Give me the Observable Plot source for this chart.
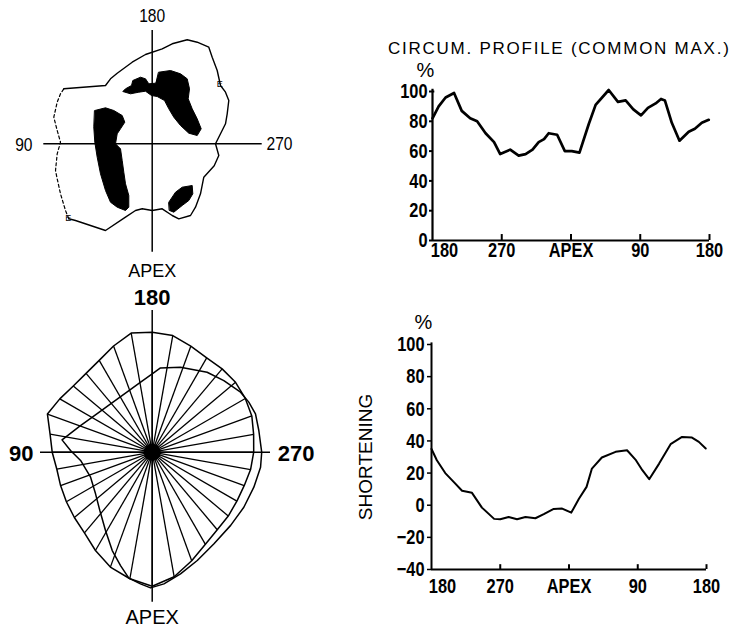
<!DOCTYPE html>
<html><head><meta charset="utf-8">
<script src="https://cdn.jsdelivr.net/npm/d3@7"></script>
<script src="https://cdn.jsdelivr.net/npm/@observablehq/plot@0.6"></script>
<style>
html,body{margin:0;padding:0;background:#fff;}
#fig{position:relative;width:732px;height:629px;overflow:hidden;background:#fff;}
.title{position:absolute;left:388px;top:39.5px;font-family:"Liberation Sans",Arial,Helvetica,sans-serif;font-size:17px;line-height:17px;letter-spacing:1.75px;white-space:nowrap;color:#000;}
</style></head><body><div id="fig"><div class="title">CIRCUM. PROFILE (COMMON MAX.)</div></div>
<script>
// ---------- data ----------
// position along the circumference: 0 = 180°, 90 = 270°, 180 = apex, 270 = 90°, 360 = 180°
const posTicks = [0, 90, 180, 270, 360];
const posLabels = ["180", "270", "APEX", "90", "180"];
const pctTicks = [0, 20, 40, 60, 80, 100];
const shortTicks = [-40, -20, 0, 20, 40, 60, 80, 100];

// circumferential profile (common max.), %
const profilePos = [0, 8, 17, 28, 38, 49, 58, 69, 80, 88, 101, 112, 121, 130, 138, 145, 151, 162, 172, 181, 191, 203, 212, 229, 241, 251, 261, 271, 280, 290, 297, 302, 311, 321, 333, 341, 350, 359];
const profileVal = [82, 90, 96, 99, 87, 82, 80, 72, 66, 58, 61, 57, 58, 61, 66, 68, 72, 71, 60, 60, 59, 78, 91, 101, 93, 94, 88, 84, 89, 92, 95, 94, 79, 67, 73, 75, 79, 81];

// regional shortening, %
const shortPos = [0, 7, 18, 29, 40, 53, 66, 82, 90, 101, 112, 123, 136, 147, 160, 171, 183, 193, 203, 210, 223, 241, 256, 267, 276, 285, 298, 313, 328, 341, 350, 359];
const shortVal = [35, 28, 20, 14.5, 9, 7.7, -1.5, -8.5, -8.7, -7.3, -8.7, -7.3, -8.1, -5.6, -2.3, -2.1, -4.6, 4, 11.4, 22.8, 29.7, 33.2, 34.2, 28.4, 21.8, 16.2, 25.9, 38, 42.5, 42.1, 39.4, 35.3];

// radial analysis: angle clockwise from 180 (top); radii in image units
const spokeAngle = [0, 10, 20, 30, 40, 50, 60, 70, 80, 90, 100, 110, 120, 130, 140, 150, 160, 170, 180, 190, 200, 210, 220, 230, 240, 250, 260, 270, 280, 290, 300, 310, 320, 330, 340, 350];
const edRadius = [120, 118.4, 112.8, 109, 108.8, 108.8, 107.5, 106, 103, 101.5, 99.9, 97.9, 97.8, 99.3, 101.2, 106.4, 115.5, 126.5, 134, 128.5, 122.3, 113.5, 105.4, 101.6, 99.1, 97.5, 96.9, 100, 103.7, 111.5, 106.7, 103, 102.9, 106, 113, 121];
const esAngle = [0, 5.6, 18.4, 34.5, 45, 55.8, 62.6, 69.6, 78.5, 90, 97.9, 109, 121, 133, 146, 157.4, 166.9, 174.9, 180.7, 185.1, 190.5, 195.6, 202.1, 210.8, 221.9, 233.7, 247.9, 263.4, 271.2, 277.8, 290, 300, 310, 320, 330, 340, 350];
const esRadius = [78.3, 84.7, 89.6, 97, 101.3, 106.8, 108.8, 110.2, 108.8, 109.5, 109.4, 107.5, 106.9, 107.3, 110.5, 117.3, 124.9, 132.2, 135.7, 132.2, 128.1, 117.7, 106.2, 91.2, 78.4, 70.3, 66.5, 72.1, 81.7, 91, 76.7, 69.5, 65.5, 63.6, 63.8, 66, 70.6];

// scintigram (image units, origin at axis crossing, y up)
const outlineSolid = [[-88.4,55],[-46.7,58.3],[-41.7,65],[-35,70.6],[-20,81.6],[-6.7,89.3],[10,95],[20,100],[35,104],[45,101.6],[56.6,96.6],[60,86.6],[65,73.3],[68.3,58.3],[73.3,51.6],[76.6,43.3],[75,30],[73.3,20],[68.3,10],[63.3,0],[66.6,-11.7],[62,-22],[51.6,-33.4],[48.3,-50],[43.3,-63.4],[38.3,-71.7],[26.6,-75],[20,-71.7],[10,-65],[0,-66.7],[-10,-65],[-16.7,-66.7],[-26.7,-73.4],[-46.7,-86.7],[-76.7,-76.7],[-83.4,-75]];
const outlineDashed = [[-83.4,-75],[-86.7,-66.7],[-91.7,-50],[-95,-35],[-96.7,-26.7],[-95,-10],[-91.7,1.6],[-95,13.3],[-98.4,26.6],[-95,41.6],[-91.7,50],[-88.4,55]];
const blobUpper = [[6.6,71.6],[18.3,73.3],[28.3,70],[35,65],[37.3,55],[36,45],[40,35],[45,25],[49,15],[45,8.3],[36.6,10.6],[28.3,18.3],[21.6,26.6],[16.6,35],[12.3,43.3],[5,47.3],[-0.7,48.3],[-6.7,52.6],[-13.4,51.6],[-21.7,50],[-29.4,52.3],[-26.7,55],[-20.7,58.3],[-19.4,63.3],[-11.7,66.6],[-6.7,65],[-3.4,60],[3.3,60.6]];
const blobLeft = [[-57.4,33.3],[-46.7,36],[-38.4,33.3],[-30,28.3],[-27.4,21.6],[-31.7,15],[-35,10],[-36.7,0],[-31.7,-5],[-30,-16.7],[-28.4,-28.4],[-26.7,-40],[-23.4,-51.7],[-23.4,-63.4],[-26.7,-66.7],[-35,-63.4],[-41.7,-58.4],[-46.7,-46.7],[-51.7,-30],[-55,-13.4],[-57.4,1.6],[-58.4,16.6]];
const blobLower = [[16.6,-58.4],[23.3,-48.4],[30,-43.4],[40,-41.7],[40.6,-50],[36.6,-56.7],[30,-61.7],[21.6,-68.4],[17.3,-66.7]];
const edgeMarks = [[-84,-74],[67.5,59.3]];
const axisNames = ["180", "270", "APEX", "90"];

// ---------- helpers ----------
const SANS = '"Liberation Sans",Arial,Helvetica,sans-serif';
const fig = document.getElementById("fig");
function place(el, left, top) {
  el.style.position = "absolute";
  el.style.left = left + "px";
  el.style.top = top + "px";
  fig.appendChild(el);
  return el;
}
// squeeze glyphs horizontally (the original lettering is a condensed face)
function condense(svg, test, factor) {
  svg.querySelectorAll("text").forEach((t) => {
    if (!test(t)) return;
    const w = t.getComputedTextLength();
    if (w > 0) {
      t.setAttribute("textLength", (w * factor).toFixed(2));
      t.setAttribute("lengthAdjust", "spacingAndGlyphs");
    }
  });
}
const isTick = (t) => !!t.closest('[aria-label$="tick label"]');
const isDigits = (t) => /^\d+$/.test(t.textContent);
const baseStyle = {fontFamily: SANS, fontSize: "21px", color: "#000", background: "transparent", overflow: "visible"};
const labelOf = (d) => posLabels[posTicks.indexOf(d)];
const polar = (a, r) => ({x: r * Math.sin(a * Math.PI / 180), y: r * Math.cos(a * Math.PI / 180)});
const px = (d) => d[0], py = (d) => d[1];

// ---------- top right: circumferential profile ----------
const profile = profilePos.map((p, i) => ({pos: p, val: profileVal[i]}));
const tr = place(Plot.plot({
  width: 362, height: 190,
  marginLeft: 62, marginRight: 23, marginTop: 11, marginBottom: 30,
  x: {domain: [0, 360], label: null},
  y: {domain: [0, 100], label: null},
  style: baseStyle,
  marks: [
    Plot.ruleX([0], {y1: 0, y2: 101.5, strokeWidth: 2.2}),
    Plot.ruleY([0], {x1: 0, x2: 360, strokeWidth: 2.2}),
    Plot.ruleY([100], {x1: 0, x2: 3, strokeWidth: 2}),
    Plot.ruleX(posTicks.slice(1), {y1: 0, y2: 4, strokeWidth: 2}),
    Plot.axisY({ticks: pctTicks, tickSize: 3, tickPadding: 2, label: null, strokeWidth: 2, fontWeight: "bold", fontSize: 21}),
    Plot.axisX({ticks: posTicks.slice(1), tickFormat: labelOf, tickSize: 0, tickPadding: 2, label: null, fontWeight: "bold", fontSize: 21}),
    Plot.axisX({ticks: posTicks.slice(0, 1), tickFormat: labelOf, tickSize: 0, tickPadding: 2, dx: 12, label: null, fontWeight: "bold", fontSize: 21}),
    Plot.line(profile, {x: "pos", y: "val", strokeWidth: 2.7, strokeLinejoin: "round"}),
    Plot.text(["%"], {frameAnchor: "top-left", dx: -16, dy: -29, fontSize: 20})
  ]
}), 370, 80);
condense(tr, isTick, 0.78);

// ---------- bottom right: shortening ----------
const shortening = shortPos.map((p, i) => ({pos: p, val: shortVal[i]}));
const br = place(Plot.plot({
  width: 382, height: 310,
  marginLeft: 81, marginRight: 26, marginTop: 44, marginBottom: 41,
  x: {domain: [0, 360], label: null},
  y: {domain: [-40, 100], label: null},
  style: baseStyle,
  marks: [
    Plot.ruleX([0], {y1: -40, y2: 101, strokeWidth: 2}),
    Plot.ruleY([-40], {x1: 0, x2: 360, strokeWidth: 2}),
    Plot.ruleX(posTicks.slice(1), {y1: -40, y2: -37, strokeWidth: 2}),
    Plot.axisY({ticks: shortTicks, tickSize: 4, tickPadding: 3, label: null, strokeWidth: 1.5, fontWeight: "bold", fontSize: 21}),
    Plot.axisX({ticks: posTicks.slice(1), tickFormat: labelOf, tickSize: 0, tickPadding: 9, label: null, fontWeight: "bold", fontSize: 21}),
    Plot.axisX({ticks: posTicks.slice(0, 1), tickFormat: labelOf, tickSize: 0, tickPadding: 9, dx: 11, label: null, fontWeight: "bold", fontSize: 21}),
    Plot.line(shortening, {x: "pos", y: "val", strokeWidth: 2, strokeLinejoin: "round"}),
    Plot.text(["%"], {frameAnchor: "top-left", dx: -17, dy: -30, fontSize: 20}),
    Plot.text(["SHORTENING"], {frameAnchor: "left", dx: -66, rotate: -90, textAnchor: "middle", fontSize: 19})
  ]
}), 350, 300);
condense(br, isTick, 0.78);

// ---------- top left: scintigram ----------
const tl = place(Plot.plot({
  width: 300, height: 280, margin: 0,
  x: {domain: [-151.7, 148.3], axis: null},
  y: {domain: [-136.7, 143.3], axis: null},
  style: baseStyle,
  marks: [
    Plot.line(blobUpper, {x: px, y: py, curve: "linear-closed", fill: "#000", stroke: "#000", strokeWidth: 1}),
    Plot.line(blobLeft, {x: px, y: py, curve: "linear-closed", fill: "#000", stroke: "#000", strokeWidth: 1}),
    Plot.line(blobLower, {x: px, y: py, curve: "linear-closed", fill: "#000", stroke: "#000", strokeWidth: 1}),
    Plot.line(outlineSolid, {x: px, y: py, strokeWidth: 1.4}),
    Plot.line(outlineDashed, {x: px, y: py, strokeWidth: 1.2, strokeDasharray: "3,2.5"}),
    Plot.ruleX([0], {y1: -108.4, y2: 113.3, strokeWidth: 1.5}),
    Plot.ruleY([0], {x1: -108.4, x2: 110, strokeWidth: 1.5}),
    Plot.text(edgeMarks, {x: px, y: py, text: () => "E", fontSize: 9}),
    Plot.text([axisNames[0]], {x: 0, y: 128.3, fontSize: 19}),
    Plot.text([axisNames[1]], {x: 127.3, y: 0, fontSize: 19}),
    Plot.text([axisNames[2]], {x: 0, y: -127, fontSize: 18}),
    Plot.text([axisNames[3]], {x: -128.4, y: -0.7, fontSize: 19})
  ]
}), 0, 0);
condense(tl, isDigits, 0.82);

// ---------- bottom left: radial wall motion ----------
const spokes = spokeAngle.map((a, i) => polar(a, edRadius[i]));
const esContour = esAngle.map((a, i) => polar(a, esRadius[i]));
place(Plot.plot({
  width: 330, height: 349, margin: 0,
  x: {domain: [-151.7, 178.3], axis: null},
  y: {domain: [-177.3, 171.7], axis: null},
  style: baseStyle,
  marks: [
    Plot.link(spokes, {x1: 0, y1: 0, x2: "x", y2: "y", strokeWidth: 1.3}),
    Plot.line(spokes, {x: "x", y: "y", curve: "linear-closed", strokeWidth: 1.5}),
    Plot.line(esContour, {x: "x", y: "y", curve: "linear-closed", strokeWidth: 1.5}),
    Plot.dot([0], {x: 0, y: 0, r: 8.5, fill: "#000", stroke: null}),
    Plot.ruleX([0], {y1: -150, y2: 141.7, strokeWidth: 1.5}),
    Plot.ruleY([0], {x1: -111.7, x2: 118.3, strokeWidth: 1.5}),
    Plot.text([axisNames[0]], {x: 0, y: 154.2, fontWeight: "bold", fontSize: 22}),
    Plot.text([axisNames[1]], {x: 144, y: -1.3, fontWeight: "bold", fontSize: 22}),
    Plot.text([axisNames[2]], {x: 0, y: -165.8, fontSize: 20}),
    Plot.text([axisNames[3]], {x: -131, y: -1.3, fontWeight: "bold", fontSize: 22})
  ]
}), 0, 280);
</script></body></html>
